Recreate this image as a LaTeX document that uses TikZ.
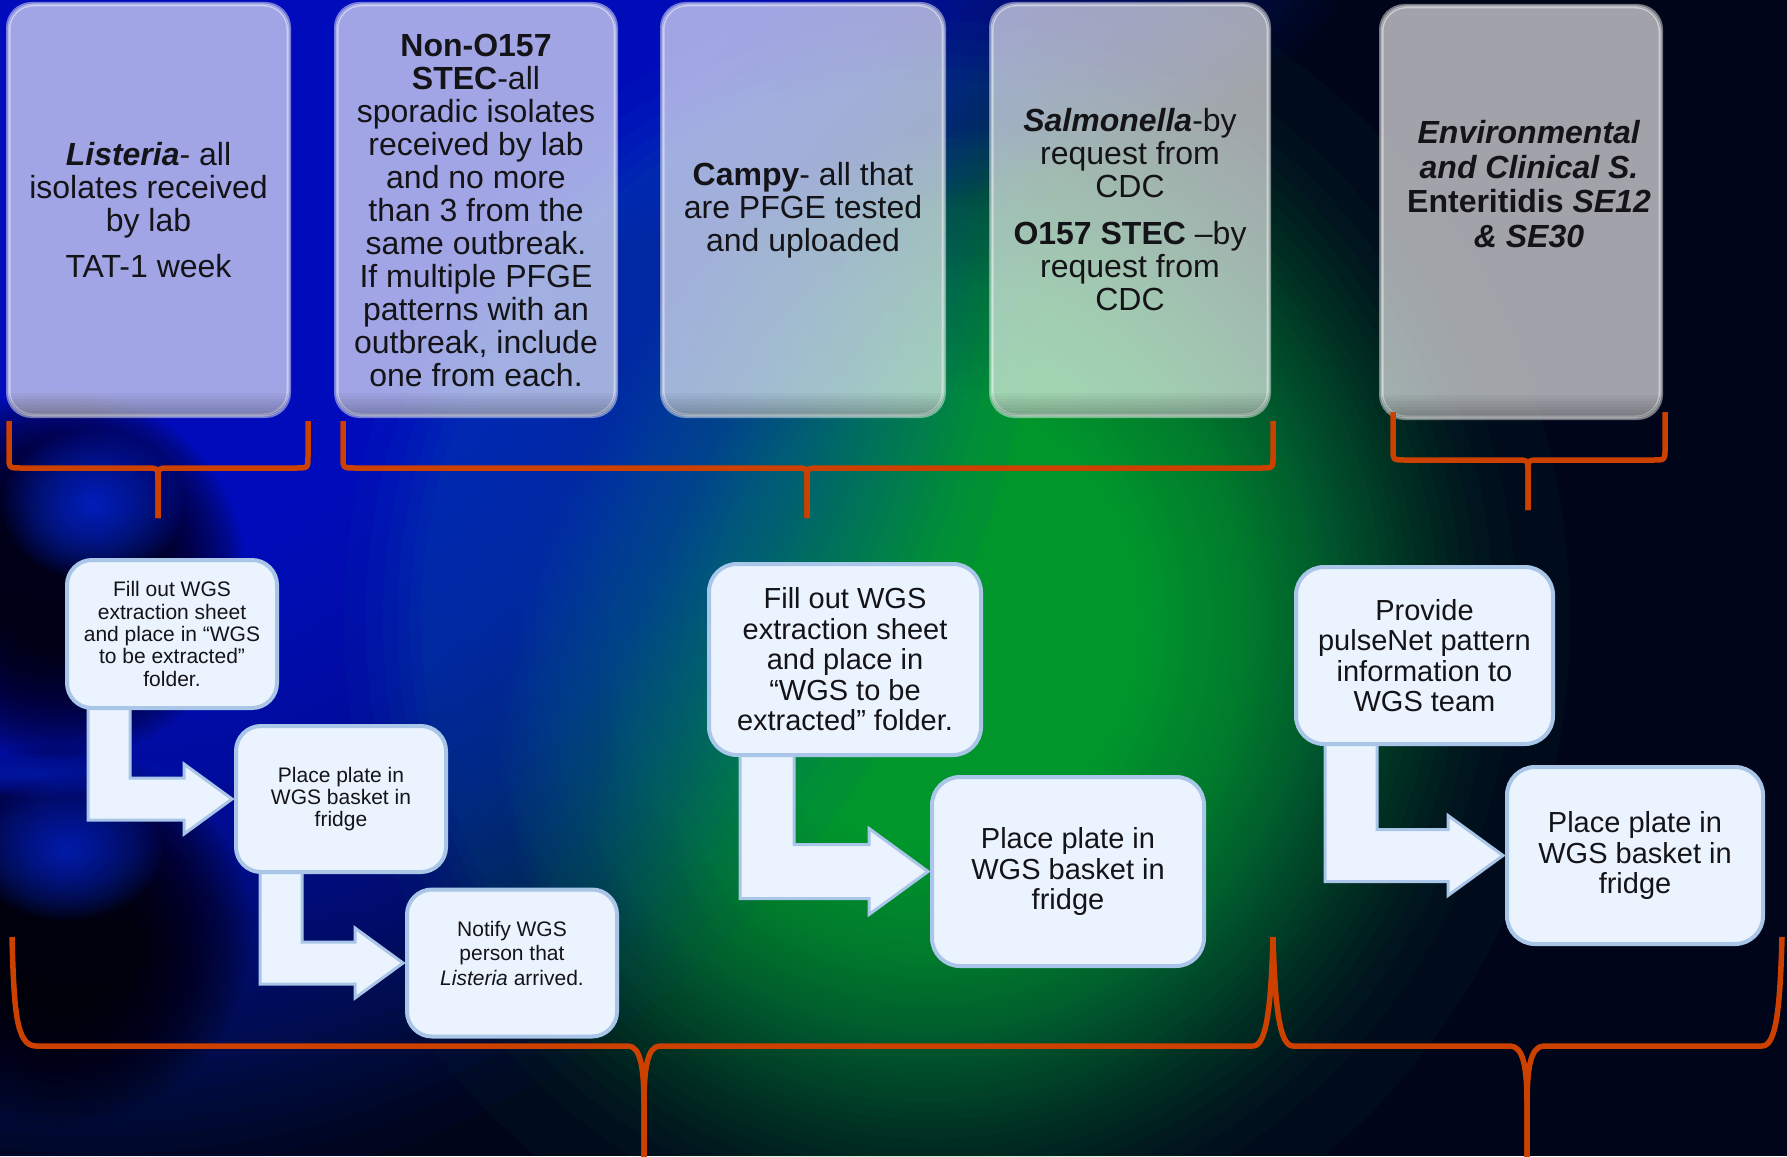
\documentclass[tikz,border=0pt]{standalone}
\usepackage{fontspec}
\setmainfont{Liberation Sans}
\usetikzlibrary{calc}
\definecolor{bracec}{RGB}{204,64,0}
\definecolor{boxfill}{RGB}{234,243,254}
\definecolor{boxline}{RGB}{169,198,232}
\definecolor{txt}{RGB}{20,20,24}
\definecolor{bgbase}{RGB}{0,5,26}
\definecolor{bgblue}{RGB}{0,40,215}
\definecolor{bglight}{RGB}{10,50,255}
\definecolor{bggreen}{RGB}{0,178,72}
\pgfdeclarelayer{back}
\pgfdeclarelayer{bg}
\pgfsetlayers{back,bg,main}
\tikzset{
  topbox/.style={rectangle, rounded corners=24, fill=white, fill opacity=0.63,
    draw=white, draw opacity=0.45, line width=3, text opacity=1, text=txt,
    align=center, inner sep=0, font=\fontsize{32}{33}\selectfont},
  toptext/.style={align=center, inner sep=0, text=txt, font=\fontsize{32}{34.5}\selectfont},
  stepbox/.style={rectangle, rounded corners=28, fill=boxfill, draw=boxline,
    line width=4, align=center, inner sep=0, text=txt},
  smalltext/.style={font=\fontsize{21}{22.4}\selectfont},
  bigtext/.style={font=\fontsize{29}{30.5}\selectfont},
  bentarrowstyle/.style={fill=boxfill, draw=boxline, line width=3, line join=miter},
  brace/.style={draw=bracec, line width=5.5, line join=round},
}
\newcommand\bentarrow[6]{%
  \path[bentarrowstyle] let \p1=(#1.south), \p2=(#2.west) in
    (#3,\y1+10pt) -- (#3,\y2-#4/2) -- (\x2-#6,\y2-#4/2) -- (\x2-#6,\y2-#5)
    -- (\x2-2pt,\y2) -- (\x2-#6,\y2+#5) -- (\x2-#6,\y2+#4/2)
    -- (#3+#4,\y2+#4/2) -- (#3+#4,\y1+10pt) -- cycle;}
\newcommand\topbrace[6]{% L C R T H P
  \draw[brace] (#1,#4) -- (#1,#5-12) .. controls (#1,#5) .. (#1+12,#5) -- (#2-12,#5)
    .. controls (#2,#5) .. (#2,#5+12) -- (#2,#6);
  \draw[brace] (#3,#4) -- (#3,#5-12) .. controls (#3,#5) .. (#3-12,#5) -- (#2+12,#5)
    .. controls (#2,#5) .. (#2,#5+12) -- (#2,#6);}
\newcommand\topbevel[1]{%
  \begin{scope}
    \clip[rounded corners=24] (#1.south west) rectangle (#1.north east);
    \foreach \k in {1,...,8}
      \fill[black, fill opacity=0.03] (#1.south west) rectangle ($(#1.south east)+(0,-3*\k)$);
  \end{scope}
  \draw[white, draw opacity=0.45, line width=3, rounded corners=24] (#1.south west) rectangle (#1.north east);}
\begin{document}
\begin{tikzpicture}[x=1pt,y=-1pt]
\useasboundingbox (0,0) rectangle (1787,1156);
\begin{pgfonlayer}{back}
  \fill[bgbase] (0,0) rectangle (1787,1156);
  % green glow, centre
  \foreach \i in {0,...,79}
    \fill[bggreen, fill opacity=0.035] (930,620) ellipse ({640*(1-0.75*sqrt(\i/80))} and {680*(1-0.75*sqrt(\i/80))});
  % blue glow, upper left
  \foreach \i in {0,...,79}
    \fill[bgblue, fill opacity=0.035] (100,150) ellipse ({950*(1-0.7*(\i/80)^0.75)} and {1050*(1-0.7*(\i/80)^0.75)});
  % blue band along the top
  \foreach \i in {0,...,59}
    \fill[bgblue, fill opacity=0.03] (450,-50) ellipse ({900*(1-\i/60)} and {300*(1-\i/60)});
  % dark spheres on the left
  \foreach \i in {0,...,24}
    \fill[black, fill opacity=0.07] (60,575) circle ({185*(1-0.6*\i/24)});
  \foreach \i in {0,...,24}
    \fill[black, fill opacity=0.07] (60,935) circle ({190*(1-0.6*\i/24)});
  \foreach \i in {0,...,19}
    \fill[bglight, fill opacity=0.06] (93,505) ellipse ({90*(1-\i/20)} and {75*(1-\i/20)});
  \foreach \i in {0,...,19}
    \fill[bglight, fill opacity=0.05] (67,850) ellipse ({95*(1-\i/20)} and {70*(1-\i/20)});
  \foreach \i in {0,...,14}
    \fill[bgblue, fill opacity=0.05] (40,775) ellipse ({140*(1-\i/15)} and {22*(1-\i/15)});
\end{pgfonlayer}

% top boxes
\node[topbox, minimum width=279, minimum height=410] (b1) at (148.5,210)
  {\textbf{\textit{Listeria}}- all\\isolates received\\by lab\\[13pt]TAT-1 week};
\node[topbox, minimum width=278, minimum height=410] (b2) at (476,210)
  {\textbf{Non-O157}\\\textbf{STEC}-all\\sporadic isolates\\received by lab\\and no more\\than 3 from the\\same outbreak.\\If multiple PFGE\\patterns with an\\outbreak, include\\one from each.};
\node[topbox, minimum width=280, minimum height=410] (b3) at (803,210)
  {\textbf{Campy}- all that\\are PFGE tested\\and uploaded};
\node[topbox, minimum width=276, minimum height=410] (b4) at (1130,210)
  {\textbf{\textit{Salmonella}}-by\\request from\\CDC\\[14pt]\textbf{O157 STEC} –by\\request from\\CDC};
\node[topbox, minimum width=278, minimum height=410] (b5) at (1521,212) {};
\node[toptext] (b5text) at (1529,184)
  {\textbf{\textit{Environmental}}\\\textbf{\textit{and Clinical S.}}\\\textbf{Enteritidis \textit{SE12}}\\\textbf{\textit{\& SE30}}};
\topbevel{b1}
\topbevel{b2}
\topbevel{b3}
\topbevel{b4}
\topbevel{b5}

% top braces
\topbrace{9}{158}{308}{421}{468}{518}
\topbrace{343}{807}{1273}{421}{468}{518}
\topbrace{1393}{1528}{1665}{412}{460}{510}

% left chain
\node[stepbox, smalltext, rounded corners=25, minimum width=210, minimum height=148] (l1) at (172,634)
  {Fill out WGS\\extraction sheet\\and place in “WGS\\to be extracted”\\folder.};
\node[stepbox, smalltext, rounded corners=25, minimum width=210, minimum height=146] (l2) at (341,799)
  {Place plate in\\WGS basket in\\fridge};
\node[stepbox, rounded corners=25, minimum width=210, minimum height=147] (l3) at (512,963) {};
\node[align=center, inner sep=0, text=txt, font=\fontsize{21}{24.5}\selectfont] (l3text) at (512,953)
  {Notify WGS\\person that\\\textit{Listeria} arrived.};

% middle chain
\node[stepbox, bigtext, minimum width=272, minimum height=191] (m1) at (845,659.5)
  {Fill out WGS\\extraction sheet\\and place in\\“WGS to be\\extracted” folder.};
\node[stepbox, bigtext, minimum width=272, minimum height=189] (m2) at (1068,871.5)
  {Place plate in\\WGS basket in\\fridge};

% right chain
\node[stepbox, bigtext, minimum width=257, minimum height=177] (r1) at (1424.5,655.5)
  {Provide\\pulseNet pattern\\information to\\WGS team};
\node[stepbox, bigtext, minimum width=256, minimum height=177] (r2) at (1635,855.5)
  {Place plate in\\WGS basket in\\fridge};

\begin{pgfonlayer}{bg}
  \bentarrow{l1}{l2}{88}{42}{35}{50}
  \bentarrow{l2}{l3}{260}{42}{35}{50}
  \bentarrow{m1}{m2}{740}{54}{43}{61}
  \bentarrow{r1}{r2}{1325}{52}{40}{57}
\end{pgfonlayer}

% bottom braces
\draw[brace] (12,937) .. controls (14,1010) and (16,1046) .. (36,1046) -- (628,1046)
  .. controls (641,1046) and (644,1070) .. (644,1105) -- (644,1160);
\draw[brace] (1273,937) .. controls (1271,1010) and (1266,1046) .. (1253,1046) -- (660,1046)
  .. controls (647,1046) and (644,1070) .. (644,1105) -- (644,1160);
\draw[brace] (1273,937) .. controls (1275,1010) and (1280,1046) .. (1293,1046) -- (1510,1046)
  .. controls (1524,1046) and (1527,1070) .. (1527,1105) -- (1527,1160);
\draw[brace] (1782,937) .. controls (1780,1010) and (1776,1046) .. (1762,1046) -- (1544,1046)
  .. controls (1530,1046) and (1527,1070) .. (1527,1105) -- (1527,1160);
\end{tikzpicture}
\end{document}
